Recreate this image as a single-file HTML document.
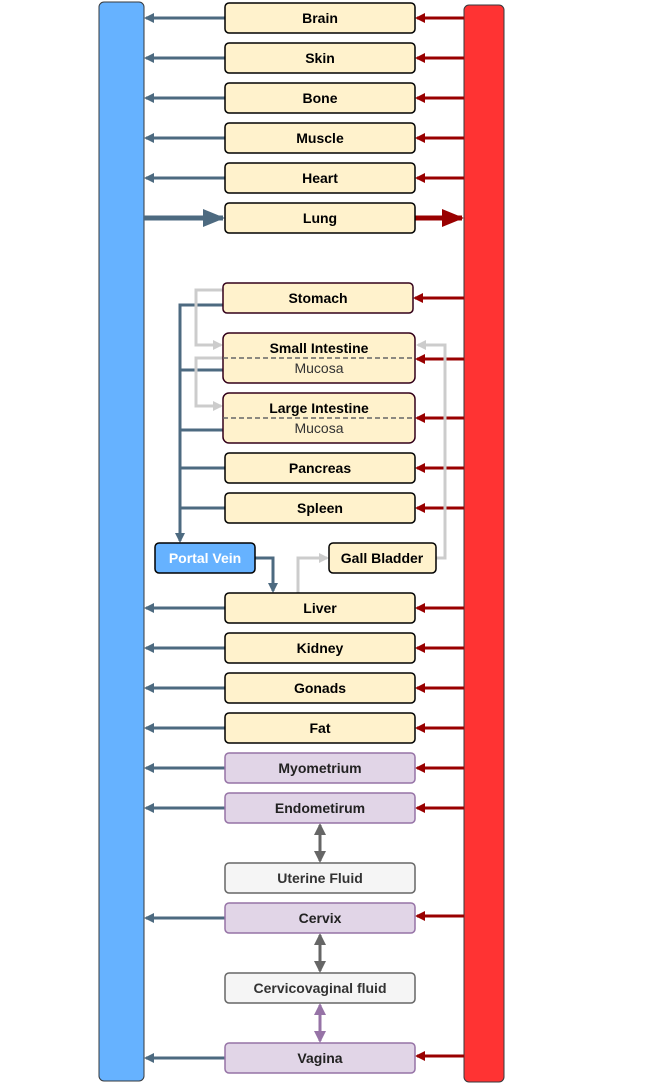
<!DOCTYPE html>
<html><head><style>body{margin:0;background:#fff}svg{display:block}text{font-family:"Liberation Sans",Arial,sans-serif;font-size:14px;font-weight:bold;text-anchor:middle;dominant-baseline:central}</style></head><body>
<svg width="663" height="1084" viewBox="0 0 663 1084">
<defs>
<marker id="b" markerWidth="10" markerHeight="10" refX="8" refY="5" orient="auto" markerUnits="userSpaceOnUse"><path d="M0,0L10,5L0,10z" fill="#4d6a80"/></marker>
<marker id="r" markerWidth="10" markerHeight="10" refX="8" refY="5" orient="auto" markerUnits="userSpaceOnUse"><path d="M0,0L10,5L0,10z" fill="#990000"/></marker>
<marker id="g" markerWidth="10" markerHeight="10" refX="8" refY="5" orient="auto" markerUnits="userSpaceOnUse"><path d="M0,0L10,5L0,10z" fill="#cccccc"/></marker>
<marker id="bb" markerWidth="22" markerHeight="18" refX="20" refY="9" orient="auto" markerUnits="userSpaceOnUse"><path d="M0,0L22,9L0,18z" fill="#4d6a80"/></marker>
<marker id="rb" markerWidth="22" markerHeight="18" refX="20" refY="9" orient="auto" markerUnits="userSpaceOnUse"><path d="M0,0L22,9L0,18z" fill="#990000"/></marker>
<marker id="d" markerWidth="12" markerHeight="12" refX="10" refY="6" orient="auto-start-reverse" markerUnits="userSpaceOnUse"><path d="M0,0L12,6L0,12z" fill="#666"/></marker>
<marker id="p" markerWidth="12" markerHeight="12" refX="10" refY="6" orient="auto-start-reverse" markerUnits="userSpaceOnUse"><path d="M0,0L12,6L0,12z" fill="#9673a6"/></marker>
</defs>
<rect x="99" y="2" width="45" height="1079" rx="5" fill="#66b2ff" stroke="#36393d"/>
<rect x="464" y="5" width="40" height="1077" rx="5" fill="#ff3333" stroke="#36393d"/>
<g stroke="#4d6a80" stroke-width="3" fill="none">
<path d="M225 18H146" marker-end="url(#b)"/><path d="M225 58H146" marker-end="url(#b)"/><path d="M225 98H146" marker-end="url(#b)"/><path d="M225 138H146" marker-end="url(#b)"/><path d="M225 178H146" marker-end="url(#b)"/>
<path d="M144 218H223" stroke-width="5" marker-end="url(#bb)"/>
<path d="M225 608H146" marker-end="url(#b)"/><path d="M225 648H146" marker-end="url(#b)"/><path d="M225 688H146" marker-end="url(#b)"/><path d="M225 728H146" marker-end="url(#b)"/><path d="M225 768H146" marker-end="url(#b)"/><path d="M225 808H146" marker-end="url(#b)"/><path d="M225 918H146" marker-end="url(#b)"/><path d="M225 1058H146" marker-end="url(#b)"/>
<path d="M223 305H180V541" marker-end="url(#b)"/>
<path d="M223 370H180M223 430H180M225 468H180M225 508H180"/>
<path d="M255 558H273V591" marker-end="url(#b)"/>
</g>
<g stroke="#990000" stroke-width="3" fill="none">
<path d="M464 18H417" marker-end="url(#r)"/><path d="M464 58H417" marker-end="url(#r)"/><path d="M464 98H417" marker-end="url(#r)"/><path d="M464 138H417" marker-end="url(#r)"/><path d="M464 178H417" marker-end="url(#r)"/>
<path d="M415 218H462" stroke-width="5" marker-end="url(#rb)"/>
<path d="M464 298H415" marker-end="url(#r)"/><path d="M464 359H417" marker-end="url(#r)"/><path d="M464 418H417" marker-end="url(#r)"/><path d="M464 468H417" marker-end="url(#r)"/><path d="M464 508H417" marker-end="url(#r)"/>
<path d="M464 608H417" marker-end="url(#r)"/><path d="M464 648H417" marker-end="url(#r)"/><path d="M464 688H417" marker-end="url(#r)"/><path d="M464 728H417" marker-end="url(#r)"/><path d="M464 768H417" marker-end="url(#r)"/><path d="M464 808H417" marker-end="url(#r)"/><path d="M464 916H417" marker-end="url(#r)"/><path d="M464 1056H417" marker-end="url(#r)"/>
</g>
<g stroke="#cccccc" stroke-width="3" fill="none">
<path d="M223 290H196V345H221" marker-end="url(#g)"/>
<path d="M223 358H196V406H221" marker-end="url(#g)"/>
<path d="M436 558H445V345H418" marker-end="url(#g)"/>
<path d="M298 593V558H327" marker-end="url(#g)"/>
</g>
<g stroke="#666" stroke-width="3" fill="none">
<path d="M320 825V861" marker-start="url(#d)" marker-end="url(#d)"/>
<path d="M320 935V971" marker-start="url(#d)" marker-end="url(#d)"/>
</g>
<path d="M320 1005V1041" stroke="#9673a6" stroke-width="3" fill="none" marker-start="url(#p)" marker-end="url(#p)"/>
<g stroke="#000" stroke-width="1.5" fill="#fff2cc">
<rect x="225" y="3" width="190" height="30" rx="4"/><rect x="225" y="43" width="190" height="30" rx="4"/><rect x="225" y="83" width="190" height="30" rx="4"/><rect x="225" y="123" width="190" height="30" rx="4"/><rect x="225" y="163" width="190" height="30" rx="4"/><rect x="225" y="203" width="190" height="30" rx="4"/>
<rect x="225" y="453" width="190" height="30" rx="4"/><rect x="225" y="493" width="190" height="30" rx="4"/>
<rect x="329" y="543" width="107" height="30" rx="4"/>
<rect x="225" y="593" width="190" height="30" rx="4"/><rect x="225" y="633" width="190" height="30" rx="4"/><rect x="225" y="673" width="190" height="30" rx="4"/><rect x="225" y="713" width="190" height="30" rx="4"/>
</g>
<g stroke="#33001a" stroke-width="1.5" fill="#fff2cc">
<rect x="223" y="283" width="190" height="30" rx="4"/>
<rect x="223" y="333" width="192" height="50" rx="6"/>
<rect x="223" y="393" width="192" height="50" rx="6"/>
</g>
<path d="M223 358H415M223 418H415" stroke="#666" stroke-width="1.5" stroke-dasharray="5,3"/>
<rect x="155" y="543" width="100" height="30" rx="4" fill="#66b2ff" stroke="#000" stroke-width="1.5"/>
<g stroke="#9673a6" stroke-width="1.5" fill="#e1d5e7">
<rect x="225" y="753" width="190" height="30" rx="4"/><rect x="225" y="793" width="190" height="30" rx="4"/><rect x="225" y="903" width="190" height="30" rx="4"/><rect x="225" y="1043" width="190" height="30" rx="4"/>
</g>
<g stroke="#666" stroke-width="1.5" fill="#f5f5f5">
<rect x="225" y="863" width="190" height="30" rx="4"/><rect x="225" y="973" width="190" height="30" rx="4"/>
</g>
<text x="320" y="18">Brain</text><text x="320" y="58">Skin</text><text x="320" y="98">Bone</text><text x="320" y="138">Muscle</text><text x="320" y="178">Heart</text><text x="320" y="218">Lung</text>
<text x="318" y="298">Stomach</text>
<text x="319" y="348">Small Intestine</text><text x="319" y="368" style="font-weight:normal;fill:#333">Mucosa</text>
<text x="319" y="408">Large Intestine</text><text x="319" y="428" style="font-weight:normal;fill:#333">Mucosa</text>
<text x="320" y="468">Pancreas</text><text x="320" y="508">Spleen</text>
<text x="205" y="558" fill="#fff">Portal Vein</text><text x="382" y="558">Gall Bladder</text>
<text x="320" y="608">Liver</text><text x="320" y="648">Kidney</text><text x="320" y="688">Gonads</text><text x="320" y="728">Fat</text>
<text x="320" y="768" fill="#222">Myometrium</text><text x="320" y="808" fill="#222">Endometirum</text>
<text x="320" y="878" fill="#333">Uterine Fluid</text><text x="320" y="918" fill="#222">Cervix</text>
<text x="320" y="988" fill="#333">Cervicovaginal fluid</text><text x="320" y="1058" fill="#222">Vagina</text>
</svg>
</body></html>
